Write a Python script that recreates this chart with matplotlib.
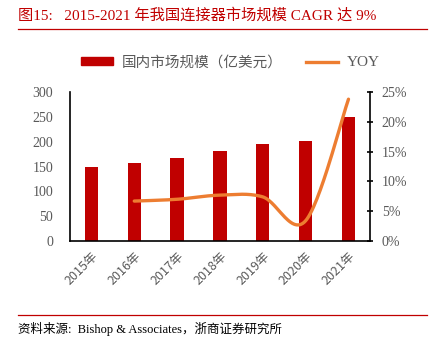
import matplotlib
matplotlib.use("Agg")
import matplotlib.pyplot as plt
import numpy as np
from matplotlib.lines import Line2D
from matplotlib.patches import Patch

YEARS = ["2015年", "2016年", "2017年", "2018年", "2019年", "2020年", "2021年"]
MARKET = [149, 158, 168, 181, 195, 201, 249]
YOY_YEARS = [1, 2, 3, 4, 5, 6]
YOY = [6.7, 7.0, 7.7, 7.4, 3.4, 23.8]

RED = "#C00000"
ORANGE = "#ED7D31"
GRAY = "#595959"
SERIF = ["Liberation Serif", "Noto Sans CJK SC"]
SANS = ["Noto Sans CJK SC", "DejaVu Sans"]


def smooth(x, y, steps=30):
    # Catmull-Rom style smoothing, like office chart "smoothed line"
    x = np.asarray(x, float)
    y = np.asarray(y, float)
    px = np.concatenate(([x[0]], x, [x[-1]]))
    py = np.concatenate(([y[0]], y, [y[-1]]))
    xs, ys = [], []
    t = np.linspace(0, 1, steps)
    for i in range(1, len(px) - 2):
        p0, p1, p2, p3 = (np.array([px[j], py[j]]) for j in (i - 1, i, i + 1, i + 2))
        c1 = p1 + (p2 - p0) / 6
        c2 = p2 - (p3 - p1) / 6
        b = ((1 - t) ** 3)[:, None] * p1 + (3 * (1 - t) ** 2 * t)[:, None] * c1 \
            + (3 * (1 - t) * t ** 2)[:, None] * c2 + (t ** 3)[:, None] * p2
        xs.extend(b[:, 0])
        ys.extend(b[:, 1])
    return xs, ys


fig = plt.figure(figsize=(4.43, 3.46), dpi=100, facecolor="white")
ax = fig.add_axes([0.158, 0.3035, 0.677, 0.4305])
pos = np.arange(len(YEARS))
ax.bar(pos, MARKET, width=0.31, color=RED, zorder=2)
ax.set_xlim(-0.5, len(YEARS) - 0.5)
ax.set_ylim(0, 300)
ax.set_yticks(range(0, 301, 50))
ax.set_xticks(pos, YEARS, rotation=45, ha="right", rotation_mode="anchor",
              family=SANS, fontsize=9, color=GRAY)
for lab in ax.get_yticklabels():
    lab.set_family(SERIF)
    lab.set_fontsize(10)
    lab.set_color(GRAY)
ax.tick_params(axis="y", length=0, pad=12)
ax.tick_params(axis="x", length=0, pad=6)
ax.spines["top"].set_visible(False)
ax.spines["right"].set_visible(False)
ax.spines["left"].set_linewidth(1.2)
ax.spines["bottom"].set_linewidth(1.2)

ax2 = ax.twinx()
sx, sy = smooth(YOY_YEARS, YOY)
ax2.plot(sx, sy, color=ORANGE, linewidth=2.4, solid_capstyle="round", zorder=3)
ax2.set_ylim(0, 25)
ax2.set_yticks(range(0, 26, 5), [f"{v}%" for v in range(0, 26, 5)])
for lab in ax2.get_yticklabels():
    lab.set_family(SERIF)
    lab.set_fontsize(10)
    lab.set_color(GRAY)
ax2.tick_params(axis="y", direction="inout", length=5, width=1.2, pad=6)
for s in ["top", "left", "bottom"]:
    ax2.spines[s].set_visible(False)
ax2.spines["right"].set_linewidth(1.2)

handles = [Patch(color=RED), Line2D([0], [0], color=ORANGE, linewidth=2.4)]
leg = fig.legend(handles, ["国内市场规模（亿美元）", "YOY"], loc="center",
                 bbox_to_anchor=(0.52, 0.82), ncol=2, frameon=False,
                 handlelength=2.2, handleheight=0.45, handletextpad=0.6,
                 columnspacing=1.6, prop={"family": SANS, "size": 10.5})
for t in leg.get_texts():
    t.set_color(GRAY)
leg.get_texts()[1].set_family(SERIF)
leg.get_texts()[1].set_fontsize(11)

fig.text(0.04, 0.955, "图15:   2015-2021 年我国连接器市场规模 CAGR 达 9%",
         family=SERIF, fontsize=11, color=RED, va="center")
fig.add_artist(Line2D([0.04, 0.965], [0.915, 0.915], color=RED, linewidth=0.9))
fig.add_artist(Line2D([0.04, 0.965], [0.09, 0.09], color=RED, linewidth=0.9))
fig.text(0.04, 0.05, "资料来源:  Bishop & Associates，浙商证券研究所",
         family=SERIF, fontsize=9, color="black", va="center")

fig.savefig("out.png", dpi=100, facecolor="white")
